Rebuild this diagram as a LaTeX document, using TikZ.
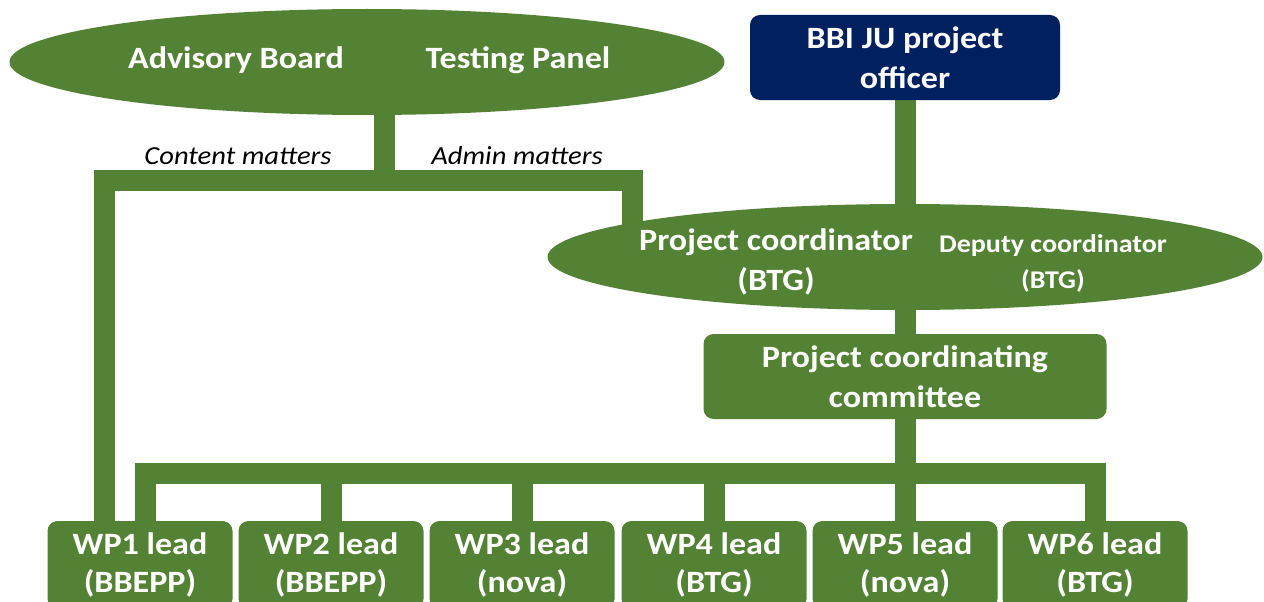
\documentclass[tikz,border=0pt]{standalone}
\usepackage{fontspec}
\setmainfont{Carlito}[FakeStretch=1.1]
\usetikzlibrary{shapes.geometric}
\pgfdeclarelayer{bg}
\pgfsetlayers{bg,main}
\definecolor{pgreen}{HTML}{548235}
\definecolor{pnavy}{HTML}{002060}
\tikzset{
  conn/.style={draw=pgreen, line width=21pt, line join=miter, line cap=butt},
  oval/.style={ellipse, fill=pgreen, draw=none, inner sep=0pt},
  wtxt/.style={text=white, font=\fontsize{31}{38}\selectfont\bfseries, align=center, inner sep=0pt},
  box/.style={rectangle, rounded corners=10pt, fill=pgreen, draw=none, text=white,
    font=\fontsize{31}{40}\selectfont\bfseries, align=center, inner sep=0pt},
  wpbox/.style={box, font=\fontsize{31}{38}\selectfont\bfseries, minimum width=185pt, minimum height=88pt},
  lbl/.style={text=black, font=\fontsize{26}{30}\selectfont\itshape, inner sep=0pt},
}
\begin{document}
\begin{tikzpicture}[x=1pt,y=-1pt]
\useasboundingbox (0,0) rectangle (1264,602);
\clip (0,0) rectangle (1264,602);
% top ellipse
\node[oval, minimum width=715pt, minimum height=106pt] (adv) at (367,62) {};
\node[wtxt] (advtxt) at (236,60) {Advisory Board};
\node[wtxt] (testtxt) at (518,60) {Testing Panel};
% BBI box
\node[box, fill=pnavy, minimum width=310pt, minimum height=85pt] (bbi) at (905,57.5) {BBI JU project\\officer};
% coordinator ellipse
\node[oval, minimum width=715pt, minimum height=106pt] (coord) at (905,257) {};
\node[wtxt, font=\fontsize{31}{40}\selectfont\bfseries] (pctxt) at (776,262) {Project coordinator\\(BTG)};
\node[wtxt, font=\fontsize{25.5}{36}\selectfont\bfseries] (dctxt) at (1053,263) {Deputy coordinator\\(BTG)};
% committee
\node[box, minimum width=403pt, minimum height=85pt] (pcc) at (905,376.5) {Project coordinating\\committee};
% labels
\node[lbl] (content) at (238,156) {Content matters};
\node[lbl] (admin) at (517,156) {Admin matters};
% WP boxes
\node[wpbox] (wp1) at (140,565) {WP1 lead\\(BBEPP)};
\node[wpbox] (wp2) at (331,565) {WP2 lead\\(BBEPP)};
\node[wpbox] (wp3) at (522,565) {WP3 lead\\(nova)};
\node[wpbox] (wp4) at (714,565) {WP4 lead\\(BTG)};
\node[wpbox] (wp5) at (905,565) {WP5 lead\\(nova)};
\node[wpbox] (wp6) at (1095,565) {WP6 lead\\(BTG)};
% junction coordinates
\coordinate (cl) at (104,180);
\coordinate (ct) at (384,180);
\coordinate (cr) at (632,180);
\coordinate (bl) at (145,473);
\coordinate (bm) at (905,473);
\coordinate (br) at (1095,473);
\begin{pgfonlayer}{bg}
  \draw[conn] (ct |- adv.center) -- (ct);
  \draw[conn] (cl |- wp1.north) -- (cl) -- (cr) -- (cr |- coord.center);
  \draw[conn] (bbi.center) -- (coord.center);
  \draw[conn] (coord.center) -- (pcc.center);
  \draw[conn] (pcc.center) -- (wp5.center);
  \draw[conn] (bl |- wp1.north) -- (bl) -- (br) -- (wp6.north);
  \draw[conn] (wp2.north) -- (wp2.north |- bm);
  \draw[conn] (wp3.north) -- (wp3.north |- bm);
  \draw[conn] (wp4.north) -- (wp4.north |- bm);
\end{pgfonlayer}
\end{tikzpicture}
\end{document}
